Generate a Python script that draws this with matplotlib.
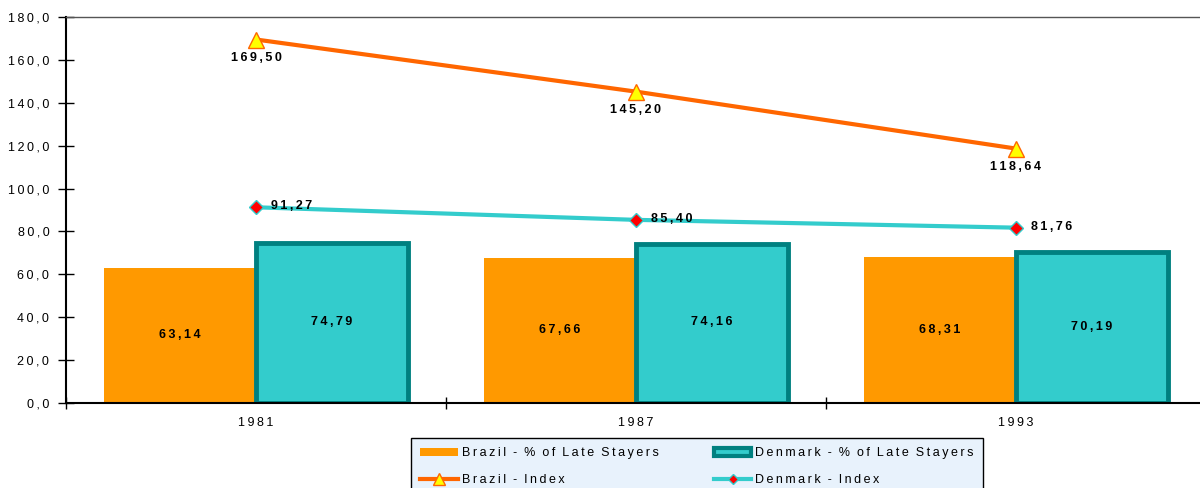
import matplotlib
matplotlib.use("Agg")
import matplotlib.pyplot as plt
from matplotlib.patches import Patch
from matplotlib.lines import Line2D
import numpy as np

years = ["1981", "1987", "1993"]
brazil_late = [63.14, 67.66, 68.31]
denmark_late = [74.79, 74.16, 70.19]
brazil_index = [169.50, 145.20, 118.64]
denmark_index = [91.27, 85.40, 81.76]
yticks = [0, 20, 40, 60, 80, 100, 120, 140, 160, 180]

plt.rcParams['font.family'] = ['Liberation Sans', 'DejaVu Sans']

def sp(s):
    return "\u2009".join(list(s))

def fmt(v, d=2):
    return sp(f"{v:.{d}f}".replace(".", ","))

fig = plt.figure(figsize=(12, 4.88), dpi=100)
ax = fig.add_axes([66/1200, 85/488, 1140/1200, 386/488])

x = np.arange(len(years))
w = 0.4
ax.bar(x - w/2, brazil_late, width=w, color="#FF9900", edgecolor="none", zorder=2)
ax.bar(x + w/2, denmark_late, width=w, color="#33CCCC", edgecolor="#008080", linewidth=3.5, zorder=2)
ax.plot(x, brazil_index, color="#FF6600", linewidth=3, marker="^", markersize=11,
        markerfacecolor="#FFFF00", markeredgecolor="#FF6600", markeredgewidth=1, zorder=4)
ax.plot(x, denmark_index, color="#33CCCC", linewidth=3, marker="D", markersize=7,
        markerfacecolor="#FF0000", markeredgecolor="#33CCCC", markeredgewidth=1, zorder=4)

for i in range(len(years)):
    ax.text(x[i] - w/2, brazil_late[i]/2, fmt(brazil_late[i]), ha="center", va="center",
            fontsize=9, fontweight="bold", zorder=5)
    ax.text(x[i] + w/2, denmark_late[i]/2 + 0.5, fmt(denmark_late[i]), ha="center", va="center",
            fontsize=9, fontweight="bold", zorder=5)
    ax.text(x[i], brazil_index[i] - 8.5, fmt(brazil_index[i]), ha="center", va="center",
            fontsize=9, fontweight="bold", zorder=5)
    ax.text(x[i] + 0.04, denmark_index[i] + 0.5, fmt(denmark_index[i]), ha="left", va="center",
            fontsize=9, fontweight="bold", zorder=5)

ax.set_xlim(-0.5, 2.5)
ax.set_ylim(0, 180)
ax.set_yticks(yticks)
ax.set_yticklabels([sp(f"{v:.1f}".replace(".", ",")) for v in yticks], fontsize=9)
ax.set_xticks(x)
ax.set_xticklabels([sp(y) for y in years], fontsize=9)
ax.set_xticks([-0.5, 0.5, 1.5, 2.5], minor=True)
ax.tick_params(axis="x", which="major", length=0, pad=10)
ax.tick_params(axis="x", which="minor", direction="inout", length=8, width=1)
ax.tick_params(axis="y", direction="inout", length=12, width=1, pad=6)

ax.spines["left"].set_linewidth(1.5)
ax.spines["bottom"].set_linewidth(1.5)
ax.spines["top"].set_color("#555555")
ax.spines["top"].set_linewidth(1)
ax.spines["right"].set_visible(False)

handles = [
    Patch(facecolor="#FF9900", edgecolor="none"),
    Line2D([0], [0], color="#FF6600", linewidth=3, marker="^", markersize=8,
           markerfacecolor="#FFFF00", markeredgecolor="#FF6600"),
    Patch(facecolor="#33CCCC", edgecolor="#008080", linewidth=3, joinstyle="round"),
    Line2D([0], [0], color="#33CCCC", linewidth=3, marker="D", markersize=5,
           markerfacecolor="#FF0000", markeredgecolor="#33CCCC"),
]
labels = [sp("Brazil - % of Late Stayers").replace("\u2009 \u2009", "  "),
          sp("Brazil - Index").replace("\u2009 \u2009", "  "),
          sp("Denmark - % of Late Stayers").replace("\u2009 \u2009", "  "),
          sp("Denmark - Index").replace("\u2009 \u2009", "  ")]
leg = fig.legend(handles, labels, ncol=2, loc="upper left",
                 bbox_to_anchor=(411/1200, 1 - 438/488), fontsize=9,
                 frameon=True, fancybox=False, edgecolor="black",
                 facecolor="#E8F2FC", framealpha=1, handlelength=3.0,
                 handleheight=0.6, handletextpad=0.32, columnspacing=4.4,
                 borderpad=0.75, borderaxespad=0, labelspacing=1.15)
leg.get_frame().set_linewidth(1)

fig.savefig("out.png", dpi=100)
